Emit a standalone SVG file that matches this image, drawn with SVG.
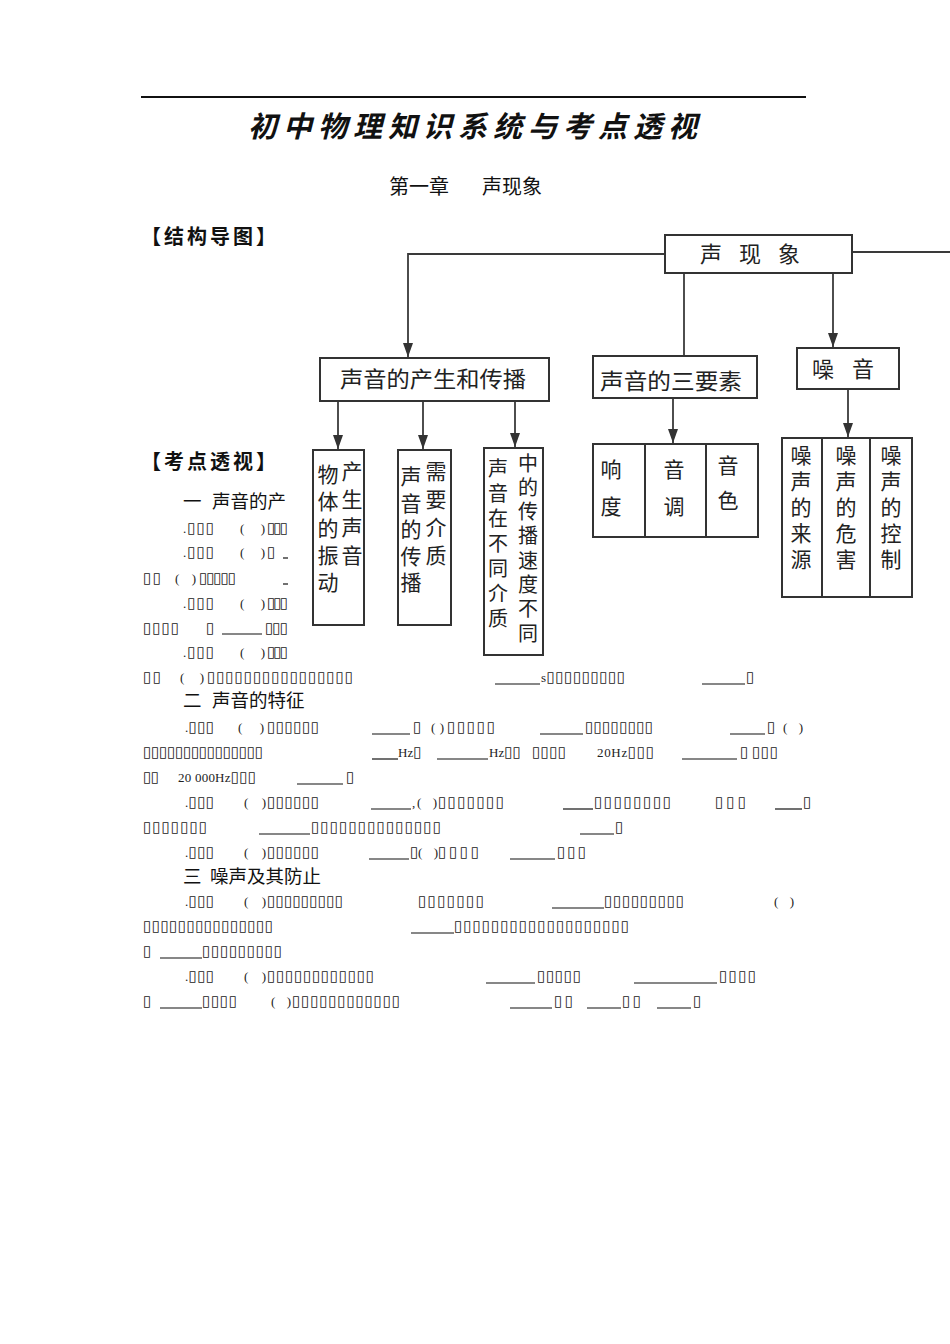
<svg xmlns="http://www.w3.org/2000/svg" width="950" height="1344" viewBox="0 0 950 1344">
<style>
.box{fill:#fff;stroke:#333;stroke-width:2}
.div{stroke:#333;stroke-width:2}
.con{fill:none;stroke:#3a3a3a;stroke-width:1.8}
.lbl{font-family:"Noto Sans CJK SC","Noto Sans CJK JP",sans-serif;font-size:22px;fill:#222}
.vt{font-family:"Noto Sans CJK SC","Noto Sans CJK JP",sans-serif;font-size:21px;fill:#222;writing-mode:vertical-rl;text-orientation:upright}
.title{font-family:"Noto Sans CJK SC",sans-serif;font-size:29px;font-weight:700;font-style:italic;letter-spacing:6px;fill:#111}
.chap{font-family:"Noto Sans CJK SC",sans-serif;font-size:20px;fill:#111}
.sec{font-family:"Noto Sans CJK SC",sans-serif;font-size:20px;font-weight:700;letter-spacing:3px;fill:#111}
.h{font-family:"Noto Sans CJK SC",sans-serif;font-size:18.5px;fill:#111}
.q{font-family:"Liberation Serif","DejaVu Sans",serif;font-size:15px;fill:#222}
.l{font-size:13px}
.u{stroke:#111;stroke-width:1.2}
</style>
<defs>
<marker id="ad" viewBox="0 0 14 10" refX="14" refY="5" markerWidth="14" markerHeight="10" markerUnits="userSpaceOnUse" orient="auto">
<path d="M0,0 L14,5 L0,10 z" fill="#333"/>
</marker>
</defs>
<rect width="950" height="1344" fill="#fff"/>

<g id="header">
<line x1="141" y1="97" x2="806" y2="97" stroke="#111" stroke-width="2"/>
<text class="title" x="248" y="137">初中物理知识系统与考点透视</text>
<text class="chap" x="389" y="194">第一章　<tspan x="482">声现象</tspan></text>
<text class="sec" x="141" y="244">【结构导图】</text>
</g>

<g id="connectors">
<path class="con" d="M665,254 H408 V357" marker-end="url(#ad)"/>
<path class="con" d="M852,252 H950"/>
<path class="con" d="M684,273 V356"/>
<path class="con" d="M833,273 V347" marker-end="url(#ad)"/>
<path class="con" d="M338,401 V449" marker-end="url(#ad)"/>
<path class="con" d="M423,401 V449" marker-end="url(#ad)"/>
<path class="con" d="M515,401 V447" marker-end="url(#ad)"/>
<path class="con" d="M673,398 V443" marker-end="url(#ad)"/>
<path class="con" d="M848,389 V437" marker-end="url(#ad)"/>
</g>

<g id="n-root">
<rect class="box" x="665" y="235" width="187" height="38"/>
<text class="lbl" x="700" y="262" textLength="100" lengthAdjust="spacing">声 现 象</text>
</g>
<g id="n-produce">
<rect class="box" x="320" y="358" width="229" height="43"/>
<text class="lbl" x="340" y="387" textLength="186" lengthAdjust="spacingAndGlyphs">声音的产生和传播</text>
</g>
<g id="n-three">
<rect class="box" x="593" y="356" width="164" height="42"/>
<text class="lbl" x="600" y="389" textLength="142" lengthAdjust="spacingAndGlyphs">声音的三要素</text>
</g>
<g id="n-noise">
<rect class="box" x="797" y="348" width="102" height="41"/>
<text class="lbl" x="812" y="377" textLength="62" lengthAdjust="spacing">噪 音</text>
</g>

<g id="n-vib">
<rect class="box" x="313" y="450" width="51" height="175"/>
<text class="vt" x="328" y="464" style="letter-spacing:6px">物体的振动</text>
<text class="vt" x="352" y="461" style="letter-spacing:7px">产生声音</text>
</g>
<g id="n-medium">
<rect class="box" x="398" y="450" width="53" height="175"/>
<text class="vt" x="411" y="466" style="letter-spacing:5.5px">声音的传播</text>
<text class="vt" x="436" y="461" style="letter-spacing:7px">需要介质</text>
</g>
<g id="n-speed">
<rect class="box" x="484" y="448" width="59" height="207"/>
<text class="vt" x="498" y="458" style="font-size:20px;letter-spacing:5px">声音在不同介质</text>
<text class="vt" x="528" y="453" style="font-size:20px;letter-spacing:4.3px">中的传播速度不同</text>
</g>
<g id="n-elements">
<rect class="box" x="593" y="444" width="165" height="93"/>
<line class="div" x1="645" y1="444" x2="645" y2="537"/>
<line class="div" x1="706" y1="444" x2="706" y2="537"/>
<text class="vt" x="611" y="459" style="letter-spacing:16px">响度</text>
<text class="vt" x="674" y="459" style="letter-spacing:16px">音调</text>
<text class="vt" x="728" y="455" style="letter-spacing:14px">音色</text>
</g>
<g id="n-noiseparts">
<rect class="box" x="782" y="438" width="130" height="159"/>
<line class="div" x1="822" y1="438" x2="822" y2="597"/>
<line class="div" x1="870" y1="438" x2="870" y2="597"/>
<text class="vt" x="801" y="445" style="letter-spacing:5px">噪声的来源</text>
<text class="vt" x="846" y="445" style="letter-spacing:5px">噪声的危害</text>
<text class="vt" x="891" y="445" style="letter-spacing:5px">噪声的控制</text>
</g>

<g id="body">
<text class="sec" x="141" y="469">【考点透视】</text>
<text class="h" x="183" y="508">一 <tspan x="212">声音的产</tspan></text>

<text class="q" x="183" y="533" textLength="31" lengthAdjust="spacing"><tspan class="l">.</tspan>▯▯▯</text>
<text class="q l" x="240" y="533" textLength="25" lengthAdjust="spacing">( )</text>
<text class="q" x="267" y="533" textLength="21" lengthAdjust="spacing">▯▯▯</text>

<text class="q" x="183" y="557" textLength="31" lengthAdjust="spacing"><tspan class="l">.</tspan>▯▯▯</text>
<text class="q l" x="240" y="557" textLength="25" lengthAdjust="spacing">( )</text>
<text class="q" x="267" y="557">▯</text>
<line class="u" x1="283" y1="558" x2="288" y2="558"/>

<text class="q" x="143" y="583" textLength="18" lengthAdjust="spacing">▯▯</text>
<text class="q l" x="175" y="583" textLength="21" lengthAdjust="spacing">( )</text>
<text class="q" x="199" y="583" textLength="37" lengthAdjust="spacing">▯▯▯▯▯</text>
<line class="u" x1="283" y1="584" x2="288" y2="584"/>

<text class="q" x="183" y="608" textLength="31" lengthAdjust="spacing"><tspan class="l">.</tspan>▯▯▯</text>
<text class="q l" x="240" y="608" textLength="25" lengthAdjust="spacing">( )</text>
<text class="q" x="267" y="608" textLength="21" lengthAdjust="spacing">▯▯▯</text>

<text class="q" x="143" y="633" textLength="36" lengthAdjust="spacing">▯▯▯▯</text>
<text class="q" x="206" y="633">▯</text>
<line class="u" x1="222" y1="634" x2="262" y2="634"/>
<text class="q" x="265" y="633" textLength="23" lengthAdjust="spacing">▯▯▯</text>

<text class="q" x="183" y="657" textLength="31" lengthAdjust="spacing"><tspan class="l">.</tspan>▯▯▯</text>
<text class="q l" x="240" y="657" textLength="25" lengthAdjust="spacing">( )</text>
<text class="q" x="267" y="657" textLength="21" lengthAdjust="spacing">▯▯▯</text>

<text class="q" x="143" y="682" textLength="18" lengthAdjust="spacing">▯▯</text>
<text class="q l" x="180" y="682" textLength="24" lengthAdjust="spacing">( )</text>
<text class="q" x="207" y="682" textLength="146" lengthAdjust="spacing">▯▯▯▯▯▯▯▯▯▯▯▯▯▯▯▯</text>
<line class="u" x1="495" y1="684" x2="540" y2="684"/>
<text class="q" x="541" y="682" textLength="84" lengthAdjust="spacing"><tspan class="l">s</tspan>▯▯▯▯▯▯▯▯▯</text>
<line class="u" x1="702" y1="684" x2="745" y2="684"/>
<text class="q" x="746" y="682">▯</text>

<text class="h" x="183" y="707">二 <tspan x="212">声音的特征</tspan></text>

<text class="q" x="185" y="732" textLength="29" lengthAdjust="spacing"><tspan class="l">.</tspan>▯▯▯</text>
<text class="q l" x="238" y="732" textLength="26" lengthAdjust="spacing">( )</text>
<text class="q" x="267" y="732" textLength="52" lengthAdjust="spacing">▯▯▯▯▯▯</text>
<line class="u" x1="372" y1="734" x2="410" y2="734"/>
<text class="q" x="413" y="732">▯</text>
<text class="q l" x="431" y="732" textLength="13" lengthAdjust="spacing">( )</text>
<text class="q" x="447" y="732" textLength="48" lengthAdjust="spacing">▯▯▯▯▯</text>
<line class="u" x1="540" y1="734" x2="583" y2="734"/>
<text class="q" x="585" y="732" textLength="68" lengthAdjust="spacing">▯▯▯▯▯▯▯▯</text>
<line class="u" x1="730" y1="734" x2="765" y2="734"/>
<text class="q" x="767" y="732">▯</text>
<text class="q l" x="783" y="732" textLength="20" lengthAdjust="spacing">( )</text>

<text class="q" x="143" y="757" textLength="120" lengthAdjust="spacing">▯▯▯▯▯▯▯▯▯▯▯▯▯▯▯</text>
<line class="u" x1="372" y1="759" x2="398" y2="759"/>
<text class="q" x="398" y="757"><tspan class="l">Hz</tspan>▯</text>
<line class="u" x1="437" y1="759" x2="488" y2="759"/>
<text class="q" x="489" y="757"><tspan class="l">Hz</tspan>▯▯</text>
<text class="q" x="532" y="757" textLength="34" lengthAdjust="spacing">▯▯▯▯</text>
<text class="q" x="597" y="757" textLength="57" lengthAdjust="spacing"><tspan class="l">20Hz</tspan>▯▯▯</text>
<line class="u" x1="682" y1="759" x2="737" y2="759"/>
<text class="q" x="740" y="757">▯</text>
<text class="q" x="752" y="757" textLength="26" lengthAdjust="spacing">▯▯▯</text>

<text class="q" x="143" y="782" textLength="16" lengthAdjust="spacing">▯▯</text>
<text class="q" x="178" y="782" textLength="78" lengthAdjust="spacing"><tspan class="l">20 000Hz</tspan>▯▯▯</text>
<line class="u" x1="297" y1="784" x2="343" y2="784"/>
<text class="q" x="346" y="782">▯</text>

<text class="q" x="185" y="807" textLength="29" lengthAdjust="spacing"><tspan class="l">.</tspan>▯▯▯</text>
<text class="q l" x="244" y="807" textLength="22" lengthAdjust="spacing">( )</text>
<text class="q" x="267" y="807" textLength="52" lengthAdjust="spacing">▯▯▯▯▯▯</text>
<line class="u" x1="371" y1="809" x2="411" y2="809"/>
<text class="q l" x="412" y="807">,</text>
<text class="q l" x="417" y="807" textLength="20" lengthAdjust="spacing">( )</text>
<text class="q" x="438" y="807" textLength="66" lengthAdjust="spacing">▯▯▯▯▯▯▯</text>
<line class="u" x1="563" y1="809" x2="593" y2="809"/>
<text class="q" x="594" y="807" textLength="77" lengthAdjust="spacing">▯▯▯▯▯▯▯▯</text>
<text class="q" x="715" y="807" textLength="31" lengthAdjust="spacing">▯▯▯</text>
<line class="u" x1="775" y1="809" x2="802" y2="809"/>
<text class="q" x="803" y="807">▯</text>

<text class="q" x="143" y="832" textLength="64" lengthAdjust="spacing">▯▯▯▯▯▯▯</text>
<line class="u" x1="259" y1="834" x2="310" y2="834"/>
<text class="q" x="311" y="832" textLength="130" lengthAdjust="spacing">▯▯▯▯▯▯▯▯▯▯▯▯▯▯</text>
<line class="u" x1="580" y1="834" x2="614" y2="834"/>
<text class="q" x="615" y="832">▯</text>

<text class="q" x="185" y="857" textLength="29" lengthAdjust="spacing"><tspan class="l">.</tspan>▯▯▯</text>
<text class="q l" x="244" y="857" textLength="22" lengthAdjust="spacing">( )</text>
<text class="q" x="267" y="857" textLength="52" lengthAdjust="spacing">▯▯▯▯▯▯</text>
<line class="u" x1="369" y1="859" x2="409" y2="859"/>
<text class="q" x="410" y="857">▯</text>
<text class="q l" x="418" y="857" textLength="20" lengthAdjust="spacing">( )</text>
<text class="q" x="438" y="857" textLength="41" lengthAdjust="spacing">▯▯▯▯</text>
<line class="u" x1="510" y1="859" x2="555" y2="859"/>
<text class="q" x="557" y="857" textLength="29" lengthAdjust="spacing">▯▯▯</text>

<text class="h" x="183" y="883">三 <tspan x="210">噪声及其防止</tspan></text>

<text class="q" x="185" y="906" textLength="29" lengthAdjust="spacing"><tspan class="l">.</tspan>▯▯▯</text>
<text class="q l" x="244" y="906" textLength="22" lengthAdjust="spacing">( )</text>
<text class="q" x="267" y="906" textLength="76" lengthAdjust="spacing">▯▯▯▯▯▯▯▯▯</text>
<text class="q" x="418" y="906" textLength="66" lengthAdjust="spacing">▯▯▯▯▯▯▯</text>
<line class="u" x1="552" y1="908" x2="604" y2="908"/>
<text class="q" x="604" y="906" textLength="80" lengthAdjust="spacing">▯▯▯▯▯▯▯▯▯</text>
<text class="q l" x="774" y="906" textLength="20" lengthAdjust="spacing">( )</text>

<text class="q" x="143" y="931" textLength="130" lengthAdjust="spacing">▯▯▯▯▯▯▯▯▯▯▯▯▯▯▯</text>
<line class="u" x1="411" y1="933" x2="454" y2="933"/>
<text class="q" x="454" y="931" textLength="175" lengthAdjust="spacing">▯▯▯▯▯▯▯▯▯▯▯▯▯▯▯▯▯▯▯</text>

<text class="q" x="143" y="956">▯</text>
<line class="u" x1="160" y1="958" x2="202" y2="958"/>
<text class="q" x="202" y="956" textLength="80" lengthAdjust="spacing">▯▯▯▯▯▯▯▯▯</text>

<text class="q" x="185" y="981" textLength="29" lengthAdjust="spacing"><tspan class="l">.</tspan>▯▯▯</text>
<text class="q l" x="244" y="981" textLength="22" lengthAdjust="spacing">( )</text>
<text class="q" x="267" y="981" textLength="107" lengthAdjust="spacing">▯▯▯▯▯▯▯▯▯▯▯▯</text>
<line class="u" x1="486" y1="983" x2="535" y2="983"/>
<text class="q" x="537" y="981" textLength="44" lengthAdjust="spacing">▯▯▯▯▯</text>
<line class="u" x1="634" y1="983" x2="717" y2="983"/>
<text class="q" x="719" y="981" textLength="37" lengthAdjust="spacing">▯▯▯▯</text>

<text class="q" x="143" y="1006">▯</text>
<line class="u" x1="160" y1="1008" x2="202" y2="1008"/>
<text class="q" x="202" y="1006" textLength="35" lengthAdjust="spacing">▯▯▯▯</text>
<text class="q l" x="271" y="1006" textLength="20" lengthAdjust="spacing">( )</text>
<text class="q" x="292" y="1006" textLength="108" lengthAdjust="spacing">▯▯▯▯▯▯▯▯▯▯▯▯</text>
<line class="u" x1="510" y1="1008" x2="552" y2="1008"/>
<text class="q" x="554" y="1006" textLength="19" lengthAdjust="spacing">▯▯</text>
<line class="u" x1="587" y1="1008" x2="621" y2="1008"/>
<text class="q" x="622" y="1006" textLength="19" lengthAdjust="spacing">▯▯</text>
<line class="u" x1="657" y1="1008" x2="691" y2="1008"/>
<text class="q" x="693" y="1006">▯</text>
</g>
</svg>
